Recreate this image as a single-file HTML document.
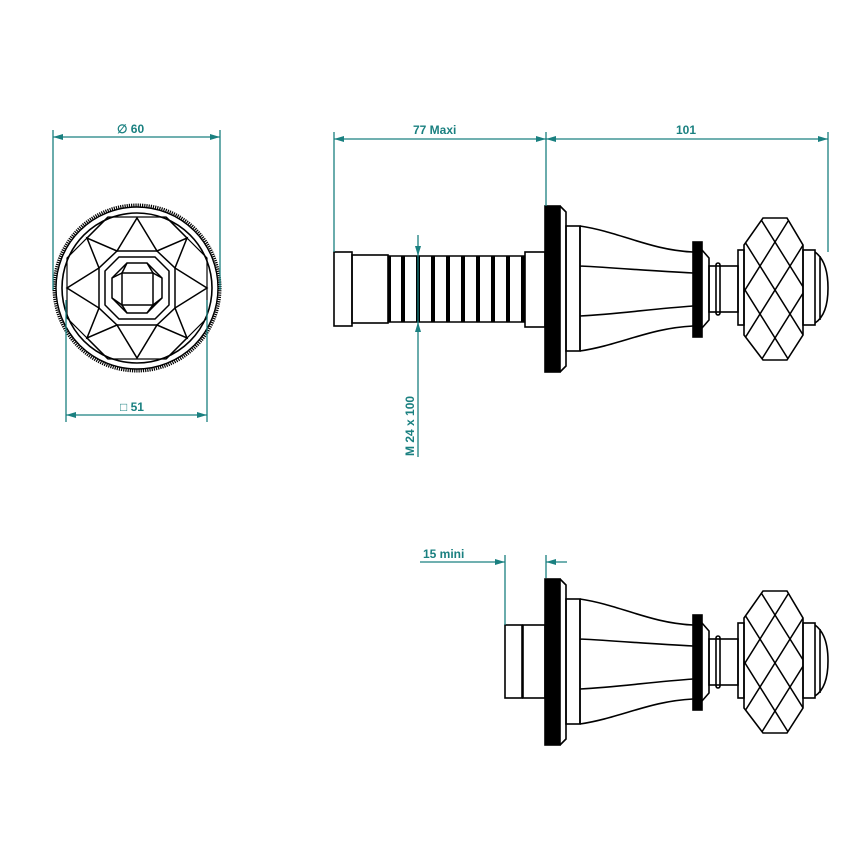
<!DOCTYPE html>
<html><head><style>body{margin:0;background:#fff}svg{display:block}</style></head>
<body>
<svg width="856" height="856" viewBox="0 0 856 856" xmlns="http://www.w3.org/2000/svg" font-family="Liberation Sans, sans-serif">
<defs>
<marker id="a" markerWidth="10" markerHeight="6" refX="10" refY="3" orient="auto-start-reverse" markerUnits="userSpaceOnUse"><path d="M0,0 L10,3 L0,6z" fill="#1a8080"/></marker>
<clipPath id="oct"><path d="M763,218 L787,218 L803,245 L803,335 L787,360 L763,360 L744,335 L744,245 Z"/></clipPath>
<g id="head" fill="none" stroke="#000" stroke-width="1.6">
  <rect x="545" y="206" width="15" height="166" fill="#000"/>
  <path d="M560,206 L566,212 L566,366 L560,372"/>
  <rect x="566" y="226" width="14" height="125"/>
  <path d="M580,226 C620,232 650,250 693,252 M580,351 C620,345 650,328 693,326 M580,266 C620,268 650,271 693,273 M580,316 C620,314 650,309 693,306 M580,226 L580,351"/>
  <rect x="693" y="242" width="9" height="95" fill="#000"/>
  <path d="M702,250 L709,258 L709,320 L702,328"/>
  <rect x="709" y="266" width="29" height="46"/>
  <rect x="716" y="263" width="4" height="52" rx="2"/>
  <rect x="738" y="250" width="6" height="75"/>
  <path d="M763,218 L787,218 L803,245 L803,335 L787,360 L763,360 L744,335 L744,245 Z"/>
  <g clip-path="url(#oct)" stroke-width="1.5">
    <path d="M700,218 L800,378 M730,218 L830,378 M760,218 L860,378 M670,218 L770,378 M640,218 L740,378 M790,218 L890,378"/>
    <path d="M850,218 L750,378 M820,218 L720,378 M790,218 L690,378 M880,218 L780,378 M910,218 L810,378 M760,218 L660,378"/>
  </g>
  <rect x="803" y="250" width="12" height="75"/>
  <path d="M815,252 C826,260 828,275 828,288 C828,301 826,316 815,323 M820,256 L820,320"/>
</g>
</defs>

<!-- Front view -->
<g fill="none" stroke="#000">
  <circle cx="137" cy="288" r="83" stroke-width="3" stroke-dasharray="1.2 1"/>
  <circle cx="137" cy="288" r="81" stroke-width="1.4"/>
  <circle cx="137" cy="288" r="75" stroke-width="1.6"/>
  <g stroke-width="1.5">
  <path d="M108,217 L166,217 L207,258 L207,318 L166,359 L108,359 L67,318 L67,258 Z" stroke-width="1.2"/>
  <path d="M137,218 L157,251 L187,238 L175,268 L207,288 L175,308 L187,338 L157,325 L137,358 L117,325 L87,338 L99,308 L67,288 L99,268 L87,238 L117,251 Z"/>
  <path d="M117,251 L157,251 L175,268 L175,308 L157,325 L117,325 L99,308 L99,268 Z"/>
  <path d="M119,257 L155,257 L169,271 L169,305 L155,319 L119,319 L105,305 L105,271 Z"/>
  <path d="M127,263 L147,263 L162,278 L162,298 L147,313 L127,313 L112,298 L112,278 Z"/>
  <rect x="122" y="273" width="31" height="32"/>
  <path d="M127,263 L122,273 M147,263 L153,273 M162,278 L153,273 M162,298 L153,305 M147,313 L153,305 M127,313 L122,305 M112,298 L122,305 M112,278 L122,273"/>
  <path d="M108,217 L87,238 M166,217 L187,238 M166,359 L187,338 M108,359 L87,338"/>
  </g>
</g>

<!-- Side view top -->
<g fill="none" stroke="#000" stroke-width="1.6">
  <rect x="334" y="252" width="18" height="74"/>
  <rect x="352" y="255" width="36" height="68"/>
  <rect x="525" y="252" width="20" height="75"/>
  <path d="M388,256 L525,256 M388,322 L525,322"/>
</g>
<g fill="#000">
  <rect x="388" y="256" width="3" height="66"/><rect x="401" y="256" width="4" height="66"/>
  <rect x="416" y="256" width="4" height="66"/><rect x="431" y="256" width="4" height="66"/>
  <rect x="446" y="256" width="4" height="66"/><rect x="461" y="256" width="4" height="66"/>
  <rect x="476" y="256" width="4" height="66"/><rect x="491" y="256" width="4" height="66"/>
  <rect x="506" y="256" width="4" height="66"/><rect x="521" y="256" width="4" height="66"/>
</g>
<use href="#head"/>

<!-- Side view bottom -->
<g fill="none" stroke="#000" stroke-width="1.6">
  <rect x="505" y="625" width="17" height="73"/>
  <rect x="523" y="625" width="22" height="73"/>
</g>
<use href="#head" transform="translate(0,373)"/>

<!-- Dimensions -->
<g stroke="#1a8080" stroke-width="1.3" fill="none">
  <path d="M53,130 L53,290 M220,130 L220,290"/>
  <line x1="53" y1="137" x2="220" y2="137" marker-start="url(#a)" marker-end="url(#a)"/>
  <path d="M66,300 L66,422 M207,300 L207,422"/>
  <line x1="66" y1="415" x2="207" y2="415" marker-start="url(#a)" marker-end="url(#a)"/>
  <path d="M334,132 L334,252 M546,132 L546,206 M828,132 L828,252"/>
  <line x1="334" y1="139" x2="546" y2="139" marker-start="url(#a)" marker-end="url(#a)"/>
  <line x1="546" y1="139" x2="828" y2="139" marker-start="url(#a)" marker-end="url(#a)"/>
  <line x1="418" y1="235" x2="418" y2="256" marker-end="url(#a)"/>
  <line x1="418" y1="457" x2="418" y2="322" marker-end="url(#a)"/>
  <line x1="418" y1="256" x2="418" y2="322"/>
  <path d="M505,555 L505,625 M546,555 L546,578"/>
  <line x1="420" y1="562" x2="505" y2="562" marker-end="url(#a)"/>
  <line x1="567" y1="562" x2="546" y2="562" marker-end="url(#a)"/>
</g>
<g fill="#1a8080" font-size="12" font-weight="bold">
  <text x="117" y="133">∅ 60</text>
  <text x="120" y="411"><tspan font-weight="normal">□</tspan> 51</text>
  <text x="413" y="134">77  Maxi</text>
  <text x="676" y="134">101</text>
  <text x="423" y="558">15  mini</text>
  <text transform="translate(414,456) rotate(-90)">M  24  x 100</text>
</g>
</svg>
</body></html>
